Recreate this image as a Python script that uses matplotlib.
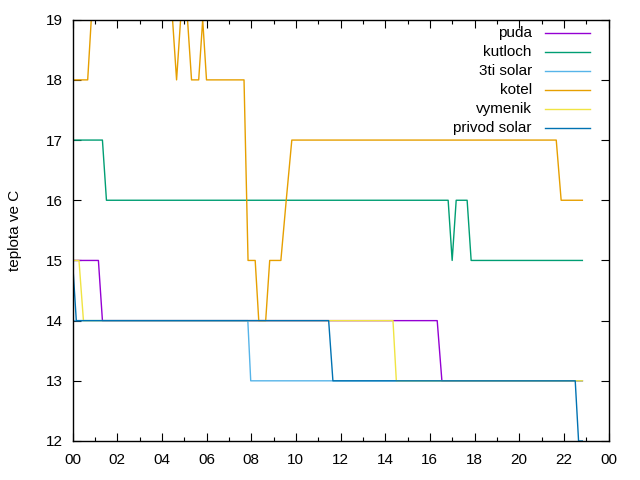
import matplotlib
matplotlib.use("Agg")
import matplotlib.pyplot as plt
from matplotlib.ticker import MultipleLocator

# ---- data (hours since midnight, temperature in C) ----
puda_t = [0.0, 1.16, 1.34, 16.33, 16.54, 22.83]
puda_v = [15, 15, 14, 14, 13, 13]

kutloch_t = [0.0, 1.34, 1.52, 16.82, 17.00, 17.18, 17.67, 17.85, 22.83]
kutloch_v = [17, 17, 16, 16, 15, 16, 16, 15, 15]

solar3_t = [0.0, 7.85, 7.98, 22.83]
solar3_v = [14, 14, 13, 13]

kotel_t = [0.0, 0.68, 0.84, 1.00, 4.32, 4.48, 4.66, 4.84, 5.00, 5.15, 5.33,
           5.65, 5.83, 6.00, 7.68, 7.86, 8.18, 8.34, 8.65, 8.83, 9.33, 9.57,
           9.82, 21.66, 21.88, 22.83]
kotel_v = [18, 18, 19, 20, 20, 19, 18, 19, 20, 19, 18,
           18, 19, 18, 18, 15, 15, 14, 14, 15, 15, 16,
           17, 17, 16, 16]

vymenik_t = [0.0, 0.29, 0.49, 14.35, 14.50, 22.83]
vymenik_v = [15, 15, 14, 14, 13, 13]

privod_t = [0.0, 0.17, 11.47, 11.66, 22.51, 22.66, 22.83]
privod_v = [15, 14, 14, 13, 13, 12, 12]

labels = ["puda", "kutloch", "3ti solar", "kotel", "vymenik", "privod solar"]
colors = ["#9400d3", "#009e73", "#56b4e9", "#e69f00", "#f0e442", "#0072b2"]
series = [(puda_t, puda_v), (kutloch_t, kutloch_v), (solar3_t, solar3_v),
          (kotel_t, kotel_v), (vymenik_t, vymenik_v), (privod_t, privod_v)]

xtick_pos = list(range(0, 25, 2))
xtick_labels = ["00", "02", "04", "06", "08", "10", "12", "14", "16", "18", "20", "22", "00"]

plt.rcParams['font.family'] = ['Liberation Sans', 'DejaVu Sans']
plt.rcParams['font.size'] = 11

fig = plt.figure(figsize=(6.4, 4.8), dpi=100)
ax = fig.add_axes([72.5 / 640, 1 - 441 / 480, (608.5 - 72.5) / 640, (441 - 19.7) / 480])

for (t, v), c in zip(series, colors):
    ax.plot(t, v, color=c, lw=1.0)

ax.set_xlim(0, 24)
ax.set_ylim(12, 19)
ax.set_xticks(xtick_pos)
ax.set_xticklabels(xtick_labels)
ax.xaxis.set_minor_locator(MultipleLocator(1))
ax.yaxis.set_major_locator(MultipleLocator(1))
ax.tick_params(which='both', direction='in', top=True, right=True, width=0.8, color='black')
ax.tick_params(which='major', length=6)
ax.tick_params(axis='x', which='major', pad=9)
ax.tick_params(axis='y', which='major', pad=7)
ax.tick_params(which='minor', length=3)
for sp in ax.spines.values():
    sp.set_linewidth(1.0)
    sp.set_zorder(5)
ax.set_ylabel("teplota ve C", labelpad=17)

# legend drawn gnuplot style: text right aligned, sample line to the right
y0 = 0.968
dy = 19 / 421.3
for i, (lab, c) in enumerate(zip(labels, colors)):
    y = y0 - i * dy
    ax.text(0.857, y, lab, ha='right', va='center', transform=ax.transAxes)
    ax.plot([0.882, 0.966], [y, y], color=c, lw=1.0, transform=ax.transAxes)

fig.savefig("out.png", dpi=100)
